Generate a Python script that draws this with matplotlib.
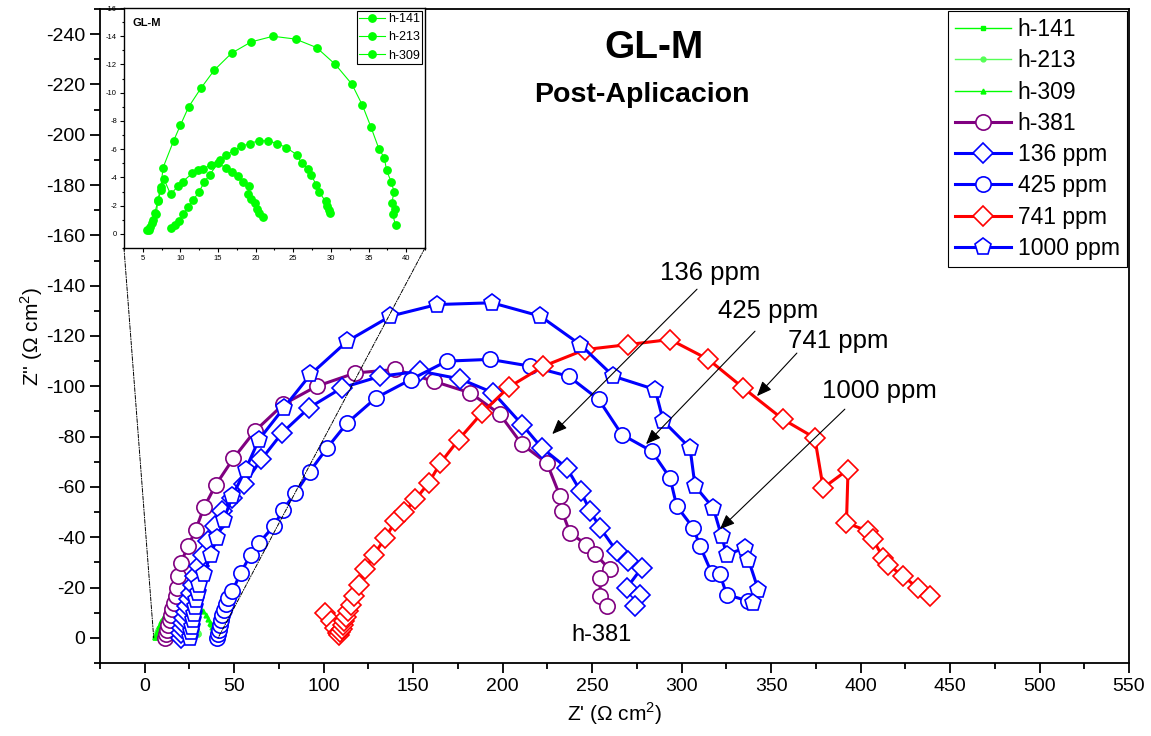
import numpy as np
import matplotlib.pyplot as plt
from matplotlib.ticker import MultipleLocator
from matplotlib.patches import ConnectionPatch

plt.rcParams['font.family'] = ['Liberation Sans', 'DejaVu Sans']
plt.rcParams['mathtext.fontset'] = 'custom'
plt.rcParams['mathtext.rm'] = 'Liberation Sans'
plt.rcParams['axes.unicode_minus'] = False

# --- data (Z' , Z'') ---
x141 = [8.8, 9.3, 9.8, 10.4, 11.0, 11.7, 12.5, 13.2, 13.9, 15.0, 16.0, 16.9, 17.6,
        18.3, 19.1, 19.0, 19.4, 19.9, 20.2, 20.4, 21.0]
y141 = [-0.4, -0.6, -0.9, -1.4, -1.9, -2.4, -3.0, -3.7, -4.2, -5.0, -4.7, -4.4, -4.1,
        -3.7, -3.4, -2.8, -2.5, -2.2, -1.8, -1.5, -1.2]

x213 = [5.8, 6.2, 6.6, 7.0, 7.4, 7.8, 8.7, 9.7, 10.3, 11.6, 12.3, 13.0, 14.1, 15.2,
        16.1, 17.1, 18.1, 19.2, 20.4, 21.6, 22.9, 24.1, 25.5, 26.1, 27.0, 27.4, 28.0,
        28.4, 29.3, 29.5, 29.7, 29.9]
y213 = [-0.3, -0.8, -1.5, -2.3, -3.1, -3.9, -2.8, -3.4, -3.7, -4.3, -4.5, -4.6, -4.9,
        -5.2, -5.6, -5.9, -6.2, -6.4, -6.6, -6.6, -6.4, -6.1, -5.6, -5.0, -4.6, -4.2,
        -3.5, -3.0, -2.3, -2.0, -1.7, -1.5]

x309 = [5.5, 5.9, 6.4, 6.8, 7.0, 7.4, 7.7, 9.1, 10.0, 11.1, 12.7, 14.5, 16.8, 19.4,
        22.3, 25.3, 28.1, 30.6, 32.8, 34.2, 35.3, 36.4, 37.1, 37.4, 38.0, 38.4, 38.1,
        38.5, 38.2, 38.6]
y309 = [-0.3, -0.5, -1.0, -1.4, -2.4, -3.3, -4.7, -6.6, -7.7, -9.0, -10.3, -11.6,
        -12.8, -13.6, -14.0, -13.8, -13.2, -12.0, -10.6, -9.1, -7.6, -6.0, -5.4, -4.5,
        -3.7, -3.0, -2.2, -1.8, -1.4, -0.6]

x381 = [11.5, 12.0, 12.6, 13.2, 13.9, 14.6, 15.5, 16.4, 17.2, 17.9, 18.8, 20.1, 24.2,
        28.5, 33.1, 39.6, 49.5, 61.4, 77.4, 96.0, 117.7, 140.0, 161.4, 181.9, 198.3,
        210.8, 224.7, 232.1, 233.1, 237.7, 246.7, 251.7, 259.7, 254.5, 254.5, 258.2]
y381 = [0.0, -1.5, -3.2, -5.0, -7.0, -9.2, -11.4, -13.8, -16.6, -19.8, -24.5, -29.8,
        -36.4, -43.0, -51.9, -60.7, -71.3, -82.1, -92.8, -100.0, -105.3, -106.7, -102.0,
        -97.4, -89.0, -76.9, -69.5, -56.3, -50.3, -41.7, -37.1, -33.4, -27.2, -23.8,
        -16.5, -12.6]

x136 = [20.0, 20.5, 21.0, 21.6, 22.2, 22.9, 23.7, 24.6, 25.6, 26.8, 28.3, 30.2, 32.5,
        35.5, 39.0, 43.3, 48.9, 55.4, 65.1, 76.8, 91.7, 110.2, 131.7, 154.0, 176.3,
        194.8, 210.8, 221.9, 235.8, 243.5, 249.0, 254.5, 263.7, 270.0, 277.7, 269.3,
        276.8, 274.0]
y136 = [0.0, -2.0, -4.0, -6.0, -8.0, -10.3, -12.7, -15.3, -18.0, -21.0, -24.5, -28.5,
        -33.0, -38.5, -44.5, -50.5, -55.5, -61.0, -70.9, -81.5, -91.4, -99.4, -104.0,
        -106.0, -102.9, -97.4, -84.8, -75.5, -67.6, -58.3, -50.3, -43.7, -34.4, -30.5,
        -27.8, -19.8, -17.2, -12.6]

x425 = [40.5, 40.9, 41.4, 42.0, 42.7, 43.4, 44.3, 45.3, 46.5, 48.9, 53.6, 59.2, 63.8,
        72.1, 77.3, 84.2, 92.1, 101.9, 113.1, 129.2, 148.7, 168.8, 192.9, 215.4, 236.8,
        253.6, 266.6, 283.3, 293.5, 297.3, 306.5, 310.3, 316.8, 321.4, 325.2, 337.3]
y425 = [0.0, -1.6, -3.3, -5.0, -7.0, -9.0, -11.2, -13.6, -16.0, -18.5, -25.8, -33.1,
        -37.7, -44.4, -51.0, -57.6, -66.0, -75.5, -85.4, -95.4, -102.7, -110.0, -110.7,
        -108.0, -104.0, -94.8, -80.8, -74.2, -63.6, -52.3, -43.7, -36.4, -25.8, -25.2,
        -17.2, -14.6]

x741 = [100.5, 104.0, 106.5, 107.8, 108.6, 109.3, 110.0, 110.8, 111.6, 112.5, 113.5,
        115.0, 117.0, 119.5, 123.3, 128.0, 134.5, 140.0, 145.0, 151.2, 158.7, 165.2,
        175.4, 188.4, 203.3, 222.8, 246.1, 270.3, 293.5, 314.9, 334.4, 356.8, 374.4,
        379.1, 393.0, 392.1, 404.2, 407.0, 412.6, 415.4, 423.7, 432.1, 438.6]
y741 = [-9.8, -6.5, -4.0, -2.0, -1.0, -2.2, -3.5, -5.0, -6.6, -8.4, -10.5, -13.2,
        -16.5, -21.0, -27.2, -33.1, -39.7, -46.4, -50.0, -55.0, -61.6, -69.5, -78.8,
        -89.4, -99.6, -108.0, -114.6, -116.6, -118.6, -110.7, -99.4, -86.8, -79.5,
        -59.6, -66.9, -45.7, -42.4, -39.1, -31.8, -29.1, -24.5, -19.8, -16.5]

x1000 = [25.5, 26.0, 26.5, 27.0, 27.6, 28.2, 28.9, 29.6, 30.3, 33.1, 36.8, 40.5, 44.2,
         48.9, 56.3, 63.8, 77.7, 92.6, 113.1, 137.3, 163.3, 194.0, 221.0, 243.3, 261.9,
         285.2, 289.8, 304.7, 307.5, 317.7, 322.3, 325.2, 335.4, 337.3, 342.8, 340.1]
y1000 = [0.0, -2.2, -4.5, -7.0, -9.5, -12.2, -15.0, -18.0, -21.2, -25.2, -33.1, -39.7,
         -47.0, -56.3, -66.9, -78.8, -91.4, -104.7, -117.9, -127.9, -132.5, -133.2,
         -127.9, -116.6, -104.0, -98.7, -86.1, -75.5, -60.3, -51.6, -40.4, -33.1, -35.7,
         -31.1, -19.2, -13.9]

GREEN = '#00FF00'
GREEN2 = '#55FF55'
PURPLE = '#800080'
BLUE = '#0000FF'
RED = '#FF0000'

fig = plt.figure(figsize=(11.51, 7.36), dpi=100)
ax = fig.add_axes([0.0869, 0.0992, 0.8940, 0.8886])

ax.plot(x141, y141, '-s', color=GREEN, lw=1, ms=3.5, label='h-141')
ax.plot(x213, y213, '-o', color=GREEN2, lw=1, ms=3.5, label='h-213')
ax.plot(x309, y309, '-^', color=GREEN, lw=1, ms=3.5, label='h-309')
big = dict(lw=2.2, mfc='white', mew=1.2)
ax.plot(x381, y381, '-o', color=PURPLE, ms=11, label='h-381', **big)
ax.plot(x136, y136, '-D', color=BLUE, ms=10, label='136 ppm', **big)
ax.plot(x425, y425, '-o', color=BLUE, ms=11, label='425 ppm', **big)
ax.plot(x741, y741, '-D', color=RED, ms=10, label='741 ppm', **big)
ax.plot(x1000, y1000, '-p', color=BLUE, ms=12.5, label='1000 ppm', **big)

ax.set_xlim(-25, 550)
ax.set_ylim(10, -250)
ax.set_xticks(np.arange(0, 551, 50))
ax.set_yticks(np.arange(-240, 1, 20))
ax.xaxis.set_minor_locator(MultipleLocator(25))
ax.yaxis.set_minor_locator(MultipleLocator(10))
ax.tick_params(which='major', direction='out', length=7, width=1.3, labelsize=14)
ax.tick_params(which='minor', direction='out', length=4, width=1.3)
for s in ax.spines.values():
    s.set_linewidth(1.3)

ax.set_xlabel("Z' (Ω cm$^{2}$)", fontsize=15)
ax.set_ylabel("Z'' (Ω cm$^{2}$)", fontsize=15, labelpad=1)

leg = ax.legend(loc='upper right', fontsize=16.5, fancybox=False, edgecolor='black',
                framealpha=1, labelspacing=0.36, handlelength=2.45, borderaxespad=0.1,
                borderpad=0.3, handletextpad=0.3)
leg.get_frame().set_linewidth(0.8)

ax.text(0.538, 0.940, 'GL-M', transform=ax.transAxes, ha='center', va='center',
        fontsize=28, fontweight='bold')
ax.text(0.527, 0.868, 'Post-Aplicacion', transform=ax.transAxes, ha='center',
        va='center', fontsize=20.5, fontweight='bold')
ax.text(255, -1, 'h-381', ha='center', va='center', fontsize=17)

arrow = dict(arrowstyle='-|>,head_length=0.6,head_width=0.25', color='black', lw=0.8,
             mutation_scale=15, shrinkA=0, shrinkB=0)
ax.text(315.8, -145, '136 ppm', ha='center', va='center', fontsize=18.5)
ax.annotate('', xy=(227.7, -81.0), xytext=(308.6, -138.6), arrowprops=arrow)
ax.text(348.2, -129.9, '425 ppm', ha='center', va='center', fontsize=18.5)
ax.annotate('', xy=(280.1, -77.0), xytext=(341.0, -121.9), arrowprops=arrow)
ax.text(387.3, -117.9, '741 ppm', ha='center', va='center', fontsize=18.5)
ax.annotate('', xy=(342.1, -96.1), xytext=(364.4, -113.2), arrowprops=arrow)
ax.text(410.7, -98.1, '1000 ppm', ha='center', va='center', fontsize=18.5)
ax.annotate('', xy=(321.4, -43.2), xytext=(391.2, -90.9), arrowprops=arrow)

# inset with the green curves
axin = fig.add_axes([0.1077, 0.6630, 0.2615, 0.3261])
axin.plot(x141, y141, '-o', color=GREEN, lw=0.8, ms=5.3, label='h-141')
axin.plot(x213, y213, '-o', color=GREEN, lw=0.8, ms=5.3, label='h-213')
axin.plot(x309, y309, '-o', color=GREEN, lw=0.8, ms=5.3, label='h-309')
axin.set_xlim(2.5, 42.5)
axin.set_ylim(1, -16)
axin.set_xticks(np.arange(5, 41, 5))
axin.set_yticks(np.arange(-16, 1, 2))
axin.xaxis.set_minor_locator(MultipleLocator(2.5))
axin.yaxis.set_minor_locator(MultipleLocator(1))
axin.tick_params(which='major', direction='out', length=3, width=0.8, labelsize=5.5, pad=2)
axin.tick_params(which='minor', direction='out', length=1.5, width=0.8)
for s in axin.spines.values():
    s.set_linewidth(1.0)
axin.text(0.03, 0.96, 'GL-M', transform=axin.transAxes, ha='left', va='top',
          fontsize=8, fontweight='bold')
lin = axin.legend(loc='upper right', fontsize=9, fancybox=False, edgecolor='black',
                  framealpha=1, labelspacing=0.5, handlelength=2.1, borderaxespad=0.2,
                  borderpad=0.2, handletextpad=0.2)
lin.get_frame().set_linewidth(0.8)

for xa, xb in [(0, 5), (1, 41)]:
    con = ConnectionPatch(xyA=(xa, 0), coordsA=axin.transAxes, xyB=(xb, 0),
                          coordsB=ax.transData, color='black', lw=0.7,
                          linestyle=(0, (4, 1.5, 1, 1.5)))
    fig.add_artist(con)

fig.savefig('out.png', dpi=100)
